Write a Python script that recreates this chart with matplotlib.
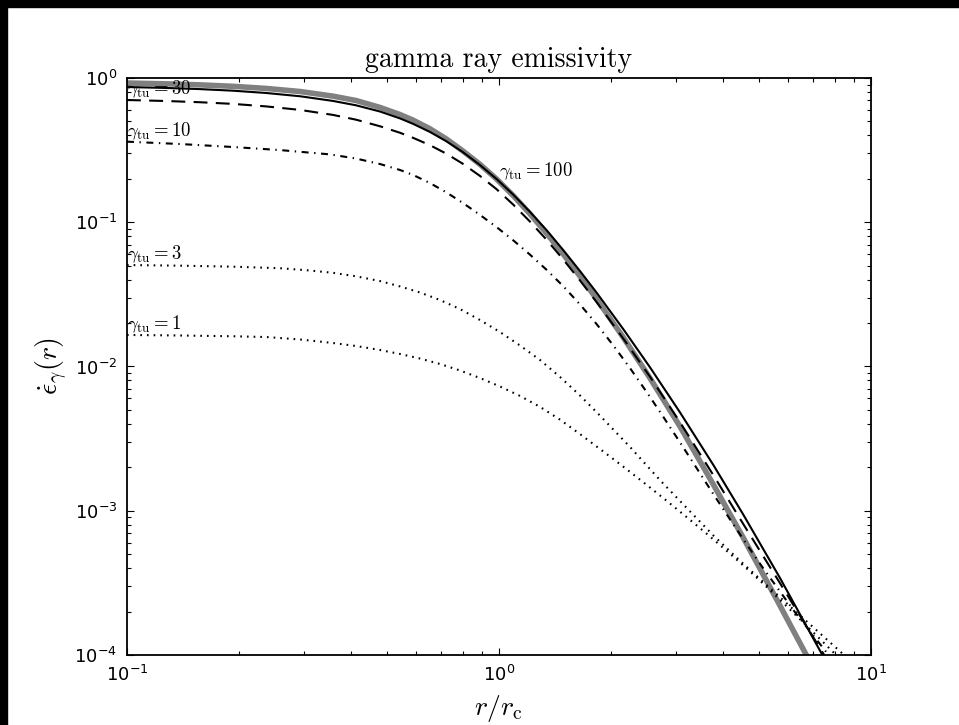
import math
import matplotlib
matplotlib.use("Agg")
import matplotlib.pyplot as plt
from matplotlib.patches import Rectangle
from matplotlib.ticker import LogLocator, FuncFormatter, NullFormatter

plt.rcParams['mathtext.fontset'] = 'cm'
plt.rcParams['font.family'] = ['DejaVu Sans']
plt.rcParams['lines.scale_dashes'] = False

# ---- data (r/r_c , emissivity) ----
x_grid = [0.100, 0.128, 0.157, 0.193, 0.237, 0.292, 0.358, 0.413, 0.479, 0.542, 0.588,
          0.652, 0.723, 0.800, 0.889, 0.986, 1.092, 1.211, 1.344, 1.486, 1.651, 1.830,
          2.159, 2.546, 3.066, 3.769, 4.536, 5.693]

x_ref = x_grid + [7.0, 8.0]
y_ref = [0.923, 0.911, 0.8965, 0.8756, 0.8465, 0.806, 0.7485, 0.698, 0.625, 0.558, 0.51,
         0.445, 0.377, 0.312, 0.252, 0.199, 0.153, 0.1145, 0.0835, 0.0605, 0.0423, 0.0294,
         0.0159, 0.00831, 0.00384, 0.00152, 6.5e-4, 2.2e-4, 8.1e-5, 4.3e-5]

x_g100 = x_grid + [7.44, 8.5]
y_g100 = [0.866, 0.8528, 0.8377, 0.8166, 0.7872, 0.7473, 0.6935, 0.6467, 0.5857, 0.5248,
          0.4808, 0.4229, 0.3637, 0.3062, 0.2494, 0.1991, 0.1555, 0.1182, 0.0879, 0.0645,
          0.0459, 0.0325, 0.01814, 0.00988, 0.00481, 0.002077, 9.41e-4, 3.42e-4, 9.76e-5,
          5.1e-5]

x_g30 = x_grid + [7.44, 8.5]
y_g30 = [0.704, 0.6925, 0.6794, 0.6614, 0.6353, 0.6008, 0.5548, 0.5141, 0.4627, 0.4172,
         0.3846, 0.3425, 0.2982, 0.2541, 0.2095, 0.1692, 0.1326, 0.1012, 0.0754, 0.0555,
         0.0395, 0.02795, 0.0156, 0.0085, 0.00411, 0.001765, 8.09e-4, 3.15e-4, 1.025e-4,
         5.9e-5]

x_g10 = [0.100, 0.1388, 0.193, 0.258, 0.351, 0.4126, 0.479, 0.542, 0.588, 0.652, 0.723,
         0.800, 0.889, 0.986, 1.092, 1.211, 1.344, 1.486, 1.651, 1.830, 2.029, 2.250,
         2.495, 2.760, 3.066, 3.401, 3.769, 4.178, 4.634, 5.135, 6.247, 7.60, 9.0]
y_g10 = [0.362, 0.3487, 0.3323, 0.3165, 0.2955, 0.2766, 0.2533, 0.2303, 0.2126, 0.1871,
         0.1608, 0.1360, 0.1125, 0.0924, 0.0750, 0.0597, 0.0467, 0.0362, 0.02694, 0.01968,
         0.01401, 0.00975, 0.00665, 0.00451, 0.00298, 0.00197, 0.001305, 8.72e-4, 5.85e-4,
         3.98e-4, 1.98e-4, 1.04e-4, 6.3e-5]

x_g3 = [0.100, 0.1388, 0.193, 0.258, 0.310, 0.358, 0.4126, 0.479, 0.542, 0.613, 0.694,
        0.786, 0.889, 1.006, 1.139, 1.289, 1.459, 1.651, 1.868, 2.250, 2.709, 3.196,
        3.769, 4.444, 5.244, 6.444, 8.43, 10.0]
y_g3 = [0.0505, 0.0500, 0.0492, 0.0480, 0.0463, 0.0446, 0.0422, 0.0391, 0.0359, 0.0326,
        0.0289, 0.0250, 0.0210, 0.01734, 0.01398, 0.0111, 0.00846, 0.00630, 0.00457,
        0.00277, 0.00163, 0.001045, 6.74e-4, 4.5e-4, 3.05e-4, 1.88e-4, 1.01e-4, 6.8e-5]

x_g1 = [0.100, 0.1388, 0.193, 0.237, 0.292, 0.358, 0.4126, 0.479, 0.542, 0.613, 0.694,
        0.786, 0.889, 1.006, 1.139, 1.289, 1.459, 1.651, 1.868, 2.115, 2.443, 2.794,
        3.196, 3.646, 4.178, 4.727, 5.244, 6.444, 8.09, 10.0]
y_g1 = [0.01654, 0.01640, 0.01620, 0.0160, 0.01539, 0.01455, 0.01387, 0.01301, 0.01221,
        0.01136, 0.01041, 0.00938, 0.00832, 0.00727, 0.00625, 0.00525, 0.00428, 0.00340,
        0.00268, 0.002104, 0.001577, 0.001198, 9.03e-4, 6.81e-4, 5.04e-4, 3.80e-4,
        2.96e-4, 1.77e-4, 9.9e-5, 5.7e-5]

labels = [r'$\gamma_{\rm tu}=30$', r'$\gamma_{\rm tu}=10$',
          r'$\gamma_{\rm tu}=3$', r'$\gamma_{\rm tu}=1$', r'$\gamma_{\rm tu}=100$']
label_pos = [(0.1, 0.704), (0.1, 0.362), (0.1, 0.0505), (0.1, 0.01654), (1.0, 0.19)]

fig = plt.figure(figsize=(9.59, 7.25), dpi=100)
fig.patch.set_facecolor('white')
ax = fig.add_axes([0.1324, 0.0966, 0.7758, 0.7958])

ax.plot(x_ref, y_ref, color='0.5', lw=4.0, solid_capstyle='butt')
ax.plot(x_g100, y_g100, color='black', lw=1.5)
ax.plot(x_g30, y_g30, color='black', lw=1.5, dashes=(10, 6))
ax.plot(x_g10, y_g10, color='black', lw=1.5, dashes=(5, 4, 1, 4))
ax.plot(x_g3, y_g3, color='black', lw=1.5, dashes=(1.2, 3.6))
ax.plot(x_g1, y_g1, color='black', lw=1.5, dashes=(1.2, 3.6))

for txt, (xx, yy) in zip(labels, label_pos):
    ax.text(xx, yy, txt, fontsize=13.5, ha='left', va='bottom')

ax.set_xscale('log')
ax.set_yscale('log')
ax.set_xlim(0.1, 10)
ax.set_ylim(1e-4, 1)

fmt = FuncFormatter(lambda v, p: r'$\mathdefault{10^{%d}}$' % round(math.log10(v)))
ax.xaxis.set_major_formatter(fmt)
ax.yaxis.set_major_formatter(fmt)
ax.xaxis.set_minor_formatter(NullFormatter())
ax.yaxis.set_minor_formatter(NullFormatter())
ax.xaxis.set_major_locator(LogLocator(base=10, numticks=10))
ax.yaxis.set_major_locator(LogLocator(base=10, numticks=10))

ax.tick_params(which='both', direction='in', top=True, right=True, width=0.8)
ax.tick_params(which='major', length=5, labelsize=13, pad=7)
ax.tick_params(which='minor', length=3)
for s in ax.spines.values():
    s.set_linewidth(1.3)

ax.set_title('gamma ray emissivity', fontfamily='cmr10', fontsize=20, pad=8)
ax.set_xlabel(r'$r/r_{\rm c}$', fontsize=20, labelpad=6)
ax.set_ylabel(r'$\dot{\epsilon}_\gamma(r)$', fontsize=20, labelpad=3)

# black strips along the top and left edges of the reference image
fig.add_artist(Rectangle((0, 1 - 7 / 725), 1, 7 / 725, transform=fig.transFigure,
                         color='black', zorder=10))
fig.add_artist(Rectangle((0, 0), 7 / 959, 1, transform=fig.transFigure,
                         color='black', zorder=10))

fig.savefig('out.png', dpi=100)
